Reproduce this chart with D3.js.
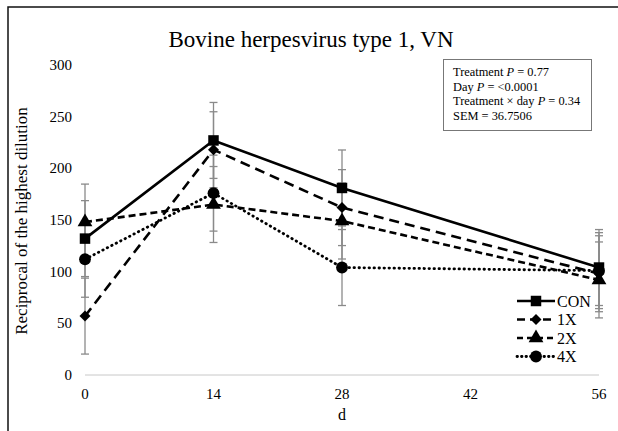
<!DOCTYPE html>
<html><head><meta charset="utf-8">
<script src="https://cdn.jsdelivr.net/npm/d3@7"></script>
<style>body{margin:0;background:#fff}svg{display:block}</style>
</head><body><svg id="c" width="618" height="431" font-family="'Liberation Serif', 'Times New Roman', serif"></svg>
<script>
const days = [0, 14, 28, 56];
const xTicks = [0, 14, 28, 42, 56];
const yTicks = [0, 50, 100, 150, 200, 250, 300];
const seriesNames = ["CON", "1X", "2X", "4X"];
const conValues = [132, 227, 181, 104];
const x1Values = [57, 218, 162, 98];
const x2Values = [148, 165, 149, 92];
const x4Values = [112, 176, 104, 101];
const sem = 36.7506;
const statsLines = ["Treatment |P| = 0.77", "Day |P| = <0.0001", "Treatment × day |P| = 0.34", "SEM = 36.7506"];

const series = [
  {name: "CON", values: conValues, dash: null, legDash: null, marker: "square"},
  {name: "1X", values: x1Values, dash: "10,6", legDash: "8,5", marker: "diamond"},
  {name: "2X", values: x2Values, dash: "7,4", legDash: "6,4", marker: "triangle"},
  {name: "4X", values: x4Values, dash: "0.5,4.5", legDash: "0.5,4", marker: "circle"}
];

const svg = d3.select("#c");
const x = d3.scaleLinear().domain([0, 56]).range([85, 599]);
const y = d3.scaleLinear().domain([0, 300]).range([375, 65]);

// frame
svg.append("path").attr("d", "M8,431 L8,7 L618,7").attr("fill", "none").attr("stroke", "#111").attr("stroke-width", 1.5);

// title
svg.append("text").attr("x", 311).attr("y", 47).attr("text-anchor", "middle").attr("font-size", 23).text("Bovine herpesvirus type 1, VN");

// x axis line
svg.append("line").attr("x1", x(0)).attr("x2", x(56)).attr("y1", y(0)).attr("y2", y(0)).attr("stroke", "#c8c8c8").attr("stroke-width", 1);

// y tick labels
svg.selectAll(".yt").data(yTicks).enter().append("text")
  .attr("x", 72).attr("y", d => y(d) + 5).attr("text-anchor", "end").attr("font-size", 15).text(d => d);
// x tick labels
svg.selectAll(".xt").data(xTicks).enter().append("text")
  .attr("x", d => x(d)).attr("y", 399).attr("text-anchor", "middle").attr("font-size", 15).text(d => d);

// axis titles
svg.append("text").attr("x", 342).attr("y", 420).attr("text-anchor", "middle").attr("font-size", 16).text("d");
svg.append("text").attr("transform", "translate(27,221) rotate(-90)").attr("text-anchor", "middle").attr("font-size", 17).text("Reciprocal of the highest dilution");

// error bars
const eb = svg.append("g").attr("stroke", "#8a8a8a").attr("stroke-width", 1.3);
series.forEach(s => {
  s.values.forEach((v, i) => {
    const cx = x(days[i]);
    eb.append("line").attr("x1", cx).attr("x2", cx).attr("y1", y(v + sem)).attr("y2", y(v - sem));
    [v + sem, v - sem].forEach(e => eb.append("line").attr("x1", cx - 4).attr("x2", cx + 4).attr("y1", y(e)).attr("y2", y(e)));
  });
});

const sym = {
  square: d3.symbol().type(d3.symbolSquare).size(110),
  diamond: d3.symbol().type(d3.symbolSquare).size(60),
  triangle: d3.symbol().type(d3.symbolTriangle).size(95),
  circle: d3.symbol().type(d3.symbolCircle).size(110)
};
const rot = m => m === "diamond" ? " rotate(45)" : "";

const line = d3.line().x((d, i) => x(days[i])).y(d => y(d));
series.forEach(s => {
  const p = svg.append("path").datum(s.values).attr("d", line).attr("fill", "none")
    .attr("stroke", "#000").attr("stroke-width", 2.6);
  if (s.dash) p.attr("stroke-dasharray", s.dash);
  if (s.marker === "circle") p.attr("stroke-linecap", "round").attr("stroke-width", 2.8);
  svg.selectAll(null).data(s.values).enter().append("path")
    .attr("d", sym[s.marker]).attr("transform", (d, i) => `translate(${x(days[i])},${y(d)})${rot(s.marker)}`).attr("fill", "#000");
});

// legend
const lg = svg.append("g");
series.forEach((s, i) => {
  const ly = 301 + i * 18.5;
  const l = lg.append("line").attr("x1", 517).attr("x2", 555).attr("y1", ly).attr("y2", ly).attr("stroke", "#000").attr("stroke-width", 2.6);
  if (s.legDash) l.attr("stroke-dasharray", s.legDash);
  if (s.name === "4X") l.attr("stroke-linecap", "round").attr("stroke-width", 2.8);
  lg.append("path").attr("d", sym[s.marker]).attr("transform", `translate(536,${ly})${rot(s.marker)}`).attr("fill", "#000");
  lg.append("text").attr("x", 557).attr("y", ly + 5.5).attr("font-size", 16).text(s.name);
});

// stats box
svg.append("rect").attr("x", 443.5).attr("y", 59.5).attr("width", 148).attr("height", 71).attr("fill", "#fff").attr("stroke", "#777").attr("stroke-width", 1);
statsLines.forEach((t, i) => {
  const tx = svg.append("text").attr("x", 453).attr("y", 76 + i * 14.5).attr("font-size", 12.4);
  t.split("|").forEach((part, j) => {
    tx.append("tspan").attr("font-style", j === 1 ? "italic" : "normal").text(part);
  });
});
</script></body></html>
